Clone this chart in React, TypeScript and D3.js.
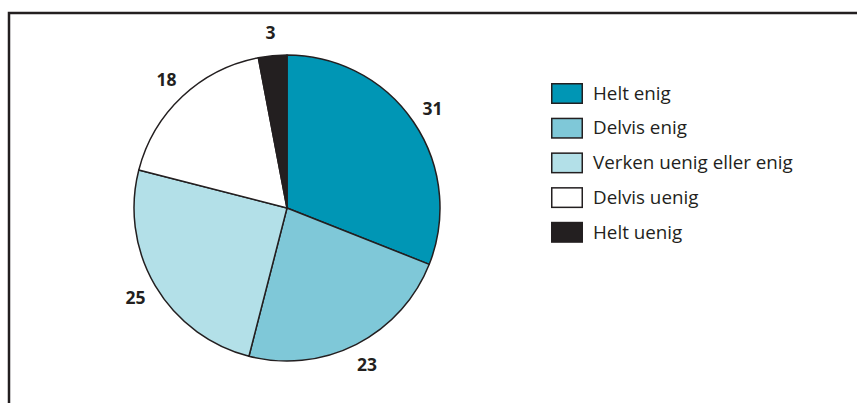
import { useEffect, useRef } from "react";
import * as d3 from "d3";

const categories = ["Helt enig", "Delvis enig", "Verken uenig eller enig", "Delvis uenig", "Helt uenig"];
const values = [31, 23, 25, 18, 3];
const colors = ["#0096b5", "#7fc8d8", "#b3e0e8", "#ffffff", "#231f20"];

const W = 857;
const H = 403;
const INK = "#231f20";

export default function App() {
  const ref = useRef<SVGSVGElement>(null);

  useEffect(() => {
    document.body.style.margin = "0";
    const svg = d3.select(ref.current);
    svg.selectAll("*").remove();

    // frame (top + left only)
    svg.append("path")
      .attr("d", `M9,403 V13 H857`)
      .attr("fill", "none")
      .attr("stroke", INK)
      .attr("stroke-width", 2.5);

    const data = categories.map((c, i) => ({ label: c, value: values[i], color: colors[i] }));
    const radius = 153;
    const pie = d3.pie<any>().value(d => d.value).sort(null);
    const arc = d3.arc<any>().innerRadius(0).outerRadius(radius);
    const labelArc = d3.arc<any>().innerRadius(176).outerRadius(176);

    const g = svg.append("g").attr("transform", "translate(287,208)");
    const arcs = pie(data);

    g.selectAll("path")
      .data(arcs)
      .enter().append("path")
      .attr("d", arc)
      .attr("fill", d => d.data.color)
      .attr("stroke", INK)
      .attr("stroke-width", 1.5)
      .attr("stroke-linejoin", "round");

    g.selectAll("text")
      .data(arcs)
      .enter().append("text")
      .attr("transform", d => `translate(${labelArc.centroid(d)})`)
      .attr("dy", "0.36em")
      .attr("text-anchor", "middle")
      .attr("fill", INK)
      .style("font-family", "'Open Sans', 'Noto Sans', sans-serif")
      .style("font-weight", "bold")
      .style("font-size", "17.5px")
      .text(d => d.data.value);

    // legend
    const legend = svg.append("g").attr("transform", "translate(551,83)");
    data.forEach((d, i) => {
      const row = legend.append("g").attr("transform", `translate(0,${i * 34.7})`);
      row.append("rect")
        .attr("x", 0.75)
        .attr("y", 0.75)
        .attr("width", 30.5)
        .attr("height", 19.5)
        .attr("fill", d.color)
        .attr("stroke", INK)
        .attr("stroke-width", 1.5);
      row.append("text")
        .attr("x", 42)
        .attr("y", 10)
        .attr("dy", "0.36em")
        .attr("fill", INK)
        .style("font-family", "'Open Sans', 'Noto Sans', sans-serif")
        .style("font-size", "18.8px")
        .text(d.label);
    });
  }, []);

  return <svg ref={ref} width={W} height={H} style={{ display: "block", background: "#fff" }}></svg>;
}
